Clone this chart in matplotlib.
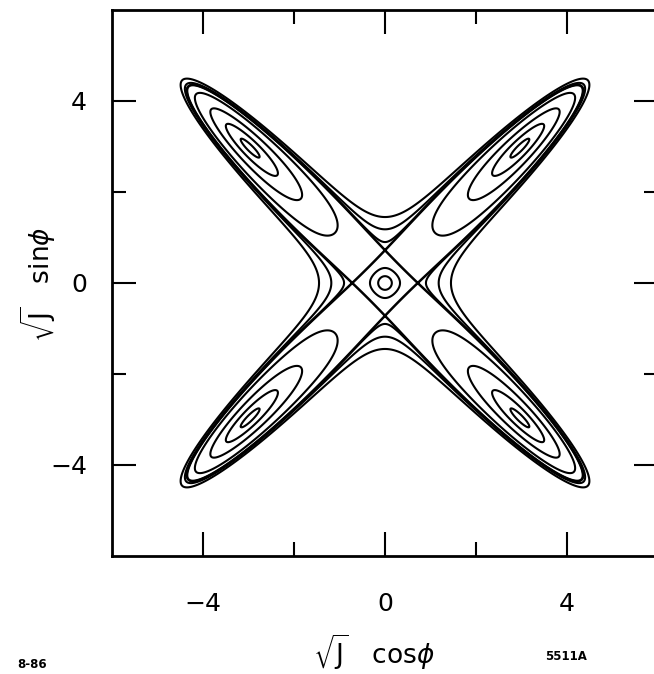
import numpy as np
import matplotlib
matplotlib.use("Agg")
import matplotlib.pyplot as plt

# Phase space of H = -J + KAPPA*J^(M/2) + EPS*W(J)*J^2*(1 + cos 4phi),
# W(J) = (1 + J/J0)^(Q-2) softens the resonance term at large amplitude;
# x = sqrt(J) cos(phi), y = sqrt(J) sin(phi)
R_HYP = 0.72        # unstable fixed points on the axes
R_ISLAND = 4.2      # island centres on the diagonals
M = 3.4
Q = 1.6
J0 = 2.0
KAPPA = 2.0 / (M * R_ISLAND ** (M - 2))

# radii / intercepts of the drawn orbits
CENTER_RADII = [0.15, 0.33]
OUTER_Y = [0.90, 1.18, 1.45]
ISLAND_R = [4.48, 4.93, 5.40, 5.87]

MAJOR_TICKS = [-4, 0, 4]
MINOR_TICKS = [-2, 2]


def resonance(x, y):
    j = x**2 + y**2
    return 2.0 * (x**2 - y**2) ** 2 * (1.0 + j / J0) ** (Q - 2)


def resonance_strength():
    # put the unstable fixed point at R_HYP on the x axis
    h = 1e-5
    slope = (resonance(R_HYP + h, 0.0) - resonance(R_HYP - h, 0.0)) / (2 * h)
    return (2.0 * R_HYP - M * KAPPA * R_HYP ** (M - 1)) / slope


EPS = resonance_strength()


def hamiltonian(x, y):
    j = x**2 + y**2
    return -j + KAPPA * j ** (M / 2) + EPS * resonance(x, y)


def main() -> None:
    fig = plt.figure(figsize=(6.54, 6.74), dpi=100)
    ax = fig.add_axes([112 / 654, 118 / 674, 546 / 654, 546 / 674])

    g = np.linspace(-6.8, 6.8, 1701)
    X, Y = np.meshgrid(g, g)
    H = hamiltonian(X, Y)
    R = np.hypot(X, Y)

    r_axis = np.linspace(0.3, 1.2, 4001)
    sep = hamiltonian(r_axis, 0.0).min()

    center_levels = sorted(hamiltonian(np.array(CENTER_RADII), 0.0))
    outer_levels = sorted(hamiltonian(0.0, np.array(OUTER_Y)))
    d = np.array(ISLAND_R) / np.sqrt(2)
    island_levels = sorted(hamiltonian(d, d))

    kw = dict(colors="black", linewidths=1.5, linestyles="solid")
    ax.contour(X, Y, np.ma.masked_where(R > 0.5, H), levels=center_levels, **kw)
    ax.contour(X, Y, np.ma.masked_where(R < 0.6, H), levels=outer_levels, **kw)
    ax.contour(X, Y, H, levels=island_levels, **kw)
    ax.contour(X, Y, H, levels=[sep], colors="black", linewidths=1.8,
               linestyles="solid")

    ax.set_xlim(-6, 6)
    ax.set_ylim(-6, 6)
    ax.set_xticks(MAJOR_TICKS)
    ax.set_yticks(MAJOR_TICKS)
    ax.set_xticks(MINOR_TICKS, minor=True)
    ax.set_yticks(MINOR_TICKS, minor=True)
    ax.tick_params(which="both", direction="in", top=True, right=True, width=1.5)
    ax.tick_params(which="major", length=17, labelsize=18)
    ax.tick_params(which="minor", length=10)
    ax.tick_params(axis="x", which="major", pad=26)
    ax.tick_params(axis="y", which="major", pad=18)
    for side in ax.spines.values():
        side.set_linewidth(2)

    ax.set_xlabel(r"$\sqrt{\mathrm{J}}$   cos$\phi$", fontsize=19)
    ax.set_ylabel(r"$\sqrt{\mathrm{J}}$   sin$\phi$", fontsize=19)
    ax.xaxis.set_label_coords(0.48, -0.14)
    ax.yaxis.set_label_coords(-0.098, 0.497)

    fig.text(17 / 654, 1 - 665 / 674, "8-86", fontsize=8.5, fontweight="bold",
             ha="left", va="center")
    fig.text(545 / 654, 1 - 656 / 674, "5511A", fontsize=8.5, fontweight="bold",
             ha="left", va="center")

    fig.savefig("out.png", dpi=100)
    plt.close(fig)


if __name__ == "__main__":
    main()
